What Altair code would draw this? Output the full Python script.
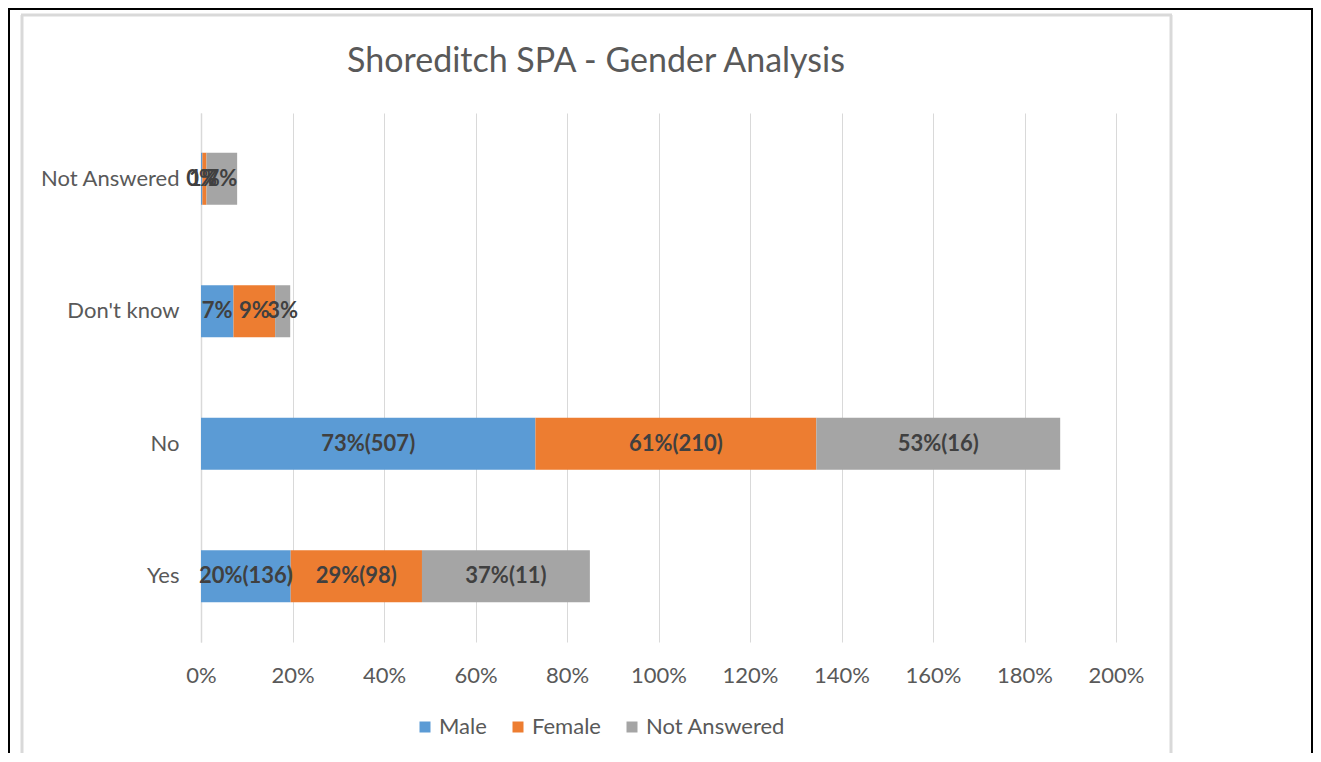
import altair as alt
import pandas as pd

# ---- data ----
categories = ["Yes", "No", "Don't know", "Not Answered"]
male_pct = [19.6, 73.1, 7.1, 0.3]
female_pct = [28.7, 61.4, 9.1, 0.9]
notans_pct = [36.7, 53.3, 3.3, 6.7]
male_labels = ["20%(136)", "73%(507)", "7%", "0%"]
female_labels = ["29%(98)", "61%(210)", "9%", "1%"]
notans_labels = ["37%(11)", "53%(16)", "3%", "7%"]
series = ["Male", "Female", "Not Answered"]
colors = ["#5B9BD5", "#ED7D31", "#A5A5A5"]
y_order = ["Not Answered", "Don't know", "No", "Yes"]
x_ticks = [0, 0.2, 0.4, 0.6, 0.8, 1.0, 1.2, 1.4, 1.6, 1.8, 2.0]
title_text = "Shoreditch SPA - Gender Analysis"

rows = []
for si, (s, vals, labs) in enumerate(
    zip(series, [male_pct, female_pct, notans_pct], [male_labels, female_labels, notans_labels])
):
    for c, v, l in zip(categories, vals, labs):
        rows.append({"category": c, "series": s, "order": si, "value": v / 100.0, "label": l})
df = pd.DataFrame(rows)

FONT = "Lato"
W, H = 915, 529

yscale = alt.Scale(domain=y_order, paddingInner=0.607, paddingOuter=0.3)
xscale = alt.Scale(domain=[0, 2], nice=False)

y_axis = alt.Axis(
    title=None, ticks=False, domain=True, domainColor="#d9d9d9", domainWidth=1.5,
    labelFont=FONT, labelFontSize=22, labelColor="#595959", labelPadding=22,
)
x_axis = alt.Axis(
    values=x_ticks, format=".0%", title=None, grid=True, gridColor="#d9d9d9",
    gridWidth=1, ticks=False, domain=False, labelFont=FONT, labelFontSize=22,
    labelColor="#595959", labelPadding=23, labelFlush=False,
)

bars = alt.Chart(df).mark_bar().encode(
    y=alt.Y("category:N", sort=y_order, scale=yscale, axis=y_axis),
    x=alt.X("value:Q", stack="zero", scale=xscale, axis=x_axis),
    color=alt.Color(
        "series:N",
        scale=alt.Scale(domain=series, range=colors),
        legend=alt.Legend(
            title=None, orient="none", legendX=213, legendY=603, direction="horizontal",
            symbolType="square", symbolSize=121, symbolStrokeWidth=0, labelFont=FONT,
            labelFontSize=22, labelColor="#595959", labelOffset=3, columnPadding=20,
        ),
    ),
    order=alt.Order("order:Q"),
)

texts = (
    alt.Chart(df)
    .transform_stack(
        stack="value", groupby=["category"], as_=["v0", "v1"], sort=[alt.SortField("order")]
    )
    .transform_calculate(mid="(datum.v0 + datum.v1) / 2")
    .mark_text(font=FONT, fontSize=22, fontWeight="bold", color="#404040")
    .encode(
        x=alt.X("mid:Q", scale=xscale, axis=x_axis),
        y=alt.Y("category:N", sort=y_order, scale=yscale, axis=y_axis),
        text="label:N",
    )
)

deco = pd.DataFrame({"k": [0]})
title = alt.Chart(deco).mark_text(
    text=title_text, font=FONT, fontSize=34, color="#595959", align="center", baseline="middle"
).encode(x=alt.value(395), y=alt.value(-51))

outer_left = alt.Chart(deco).mark_rule(color="#000000", strokeWidth=2).encode(
    x=alt.value(-192), y=alt.value(-104), y2=alt.value(640)
)
outer_top = alt.Chart(deco).mark_rule(color="#000000", strokeWidth=2).encode(
    x=alt.value(-193), x2=alt.value(1112), y=alt.value(-104)
)
outer_right = alt.Chart(deco).mark_rule(color="#000000", strokeWidth=2).encode(
    x=alt.value(1111), y=alt.value(-104), y2=alt.value(640)
)
inner_left = alt.Chart(deco).mark_rule(color="#d9d9d9", strokeWidth=3).encode(
    x=alt.value(-179), y=alt.value(-98), y2=alt.value(640)
)
inner_top = alt.Chart(deco).mark_rule(color="#d9d9d9", strokeWidth=3).encode(
    x=alt.value(-180), x2=alt.value(971), y=alt.value(-98)
)
inner_right = alt.Chart(deco).mark_rule(color="#d9d9d9", strokeWidth=3).encode(
    x=alt.value(970), y=alt.value(-98), y2=alt.value(640)
)

chart = (
    alt.layer(
        bars, texts, title, outer_left, outer_top, outer_right, inner_left, inner_top, inner_right
    )
    .properties(
        width=W,
        height=H,
        autosize=alt.AutoSizeParams(type="none"),
        padding={"left": 193, "top": 105, "right": 197, "bottom": 116},
        background="white",
    )
    .configure_view(stroke=None)
)

chart.save("out.html", embed_options={"renderer": "svg", "actions": False})
